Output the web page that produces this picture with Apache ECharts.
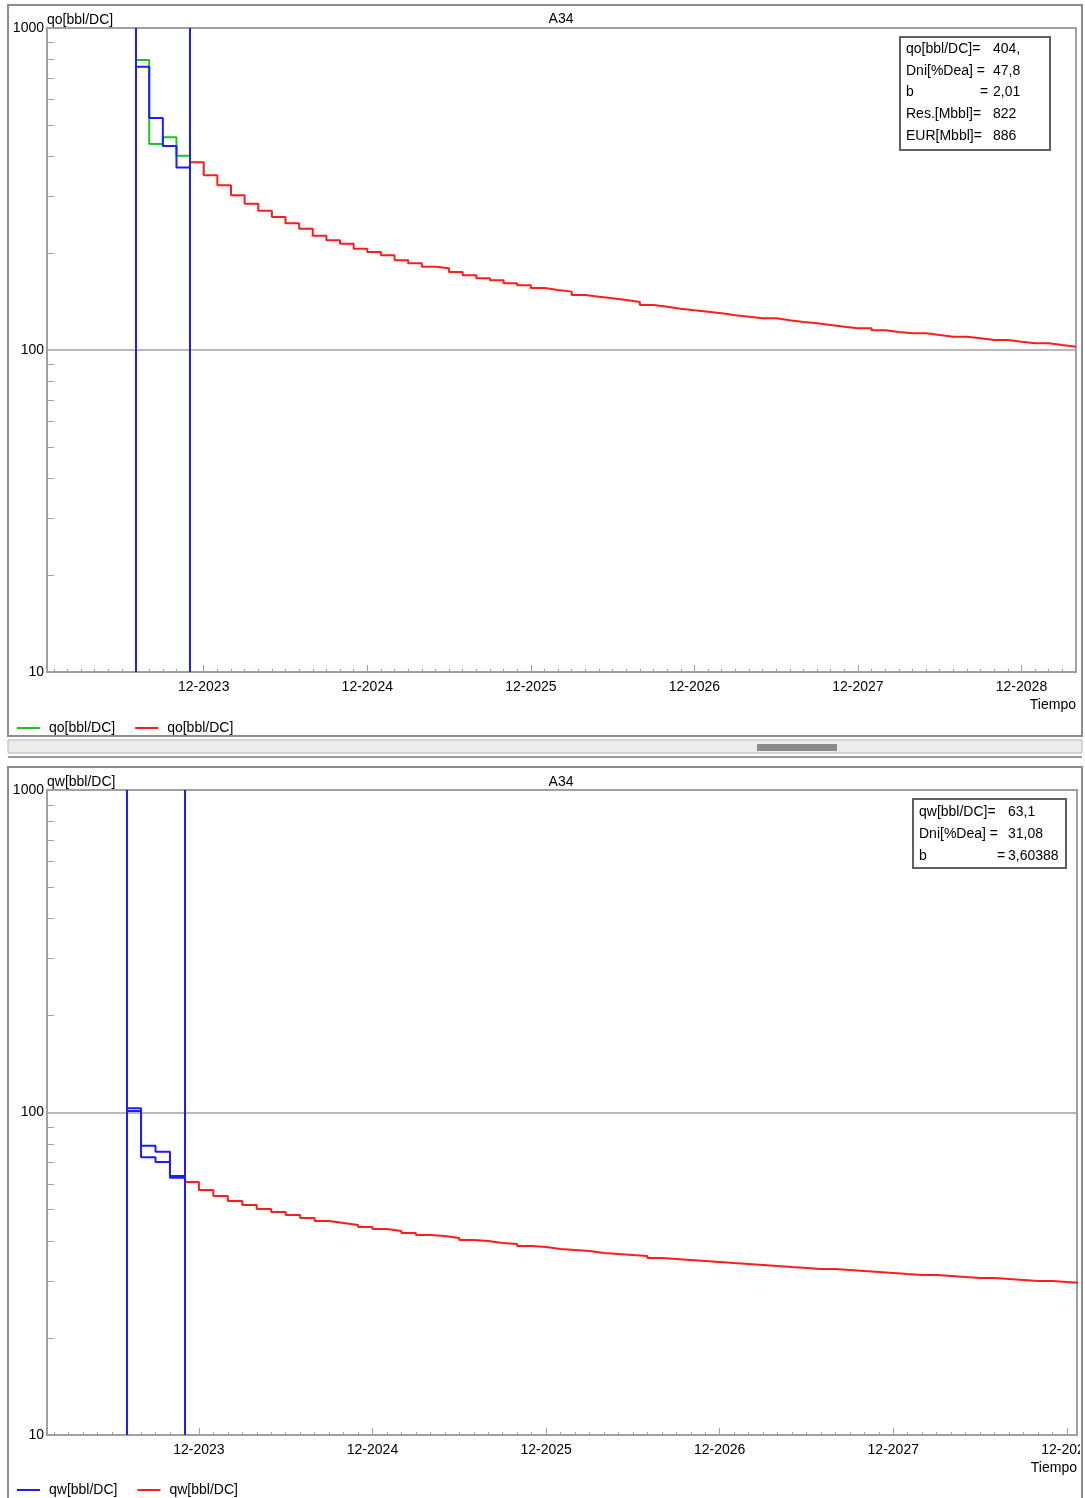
<!DOCTYPE html>
<html>
<head>
<meta charset="utf-8">
<title>A34</title>
<script src="https://cdn.jsdelivr.net/npm/echarts@6/dist/echarts.min.js"></script>
<style>
  html, body { margin: 0; padding: 0; background: #fff; }
  #MyChart { width: 1085px; height: 1498px; }
</style>
</head>
<body>
<div id="MyChart"></div>
<script>
// ---- datos (mes 0 = 12-2023) ----
const ventana = ['2023-07', '2023-11']          // lineas azules verticales
const aniosEtiqueta = ['2023-12', '2024-12', '2025-12', '2026-12', '2027-12', '2028-12']
const ticksMenoresY = [20, 30, 40, 50, 60, 70, 80, 90, 200, 300, 400, 500, 600, 700, 800, 900]

// petroleo
const qoInicio = '2023-07'
const qoHist = [795, 436, 458, 401]
const qoAjuste = [758, 525, 430, 369]
const qoPronInicio = '2023-11'
const qoPron = [382.6, 348.6, 324.7, 302.3, 284.7, 270.8, 258.8, 247.5, 238.1, 226.5,
  219.1, 213.8, 206.3, 201.5, 196.8, 189.9, 185.9, 181.4, 179.3, 174.7,
  170.6, 167.0, 164.6, 161.1, 158.8, 155.8, 153.6, 151.8, 148.2, 146.4,
  144.7, 143.0, 141.0, 138.0, 136.3, 134.4, 132.9, 131.5, 130.0, 128.2,
  126.9, 125.4, 125.4, 123.7, 122.2, 121.1, 119.6, 118.1, 116.8, 116.8,
  115.1, 113.7, 112.7, 112.7, 111.3, 110.0, 110.0, 108.7, 107.4, 107.4,
  106.1, 104.9, 104.9, 103.6, 102.4]

// agua
const qwInicio = '2023-07'
const qwHist = [103, 78.9, 75.6, 63.5]
const qwAjuste = [101, 72.6, 70.2, 62.8]
const qwPronInicio = '2023-11'
const qwPron = [60.89, 57.51, 55.10, 53.17, 51.67, 50.22, 49.15, 48.11, 47.09, 46.09,
  45.44, 44.80, 44.16, 43.53, 42.92, 42.31, 41.71, 41.41, 40.83, 40.25,
  39.96, 39.40, 39.12, 38.56, 38.29, 37.75, 37.48, 37.21, 36.69, 36.43,
  36.17, 35.91, 35.40, 35.15, 34.90, 34.65, 34.40, 34.15, 33.91, 33.67,
  33.43, 33.19, 32.96, 32.72, 32.72, 32.49, 32.26, 32.03, 31.80, 31.57,
  31.35, 31.35, 31.12, 30.90, 30.68, 30.68, 30.46, 30.25, 30.03, 30.03,
  29.82, 29.61]

// cuadros de parametros
const cuadroQoNombres = ['qo[bbl/DC]=', 'Dni[%Dea] =', 'b', 'Res.[Mbbl]=', 'EUR[Mbbl]=']
const cuadroQoValores = ['404,', '47,8', '2,01', '822', '886']
const cuadroQwNombres = ['qw[bbl/DC]=', 'Dni[%Dea] =', 'b']
const cuadroQwValores = ['63,1', '31,08', '3,60388']

const nombresLeyenda = {
  qo_hist: 'qo[bbl/DC]', qo_pron: 'qo[bbl/DC]',
  qw_hist: 'qw[bbl/DC]', qw_pron: 'qw[bbl/DC]'
}

const FUENTE = 'Liberation Sans'
const GRIS = '#a0a0a0'
const VERDE = '#22c322'
const AZUL = '#1c1cff'
const ROJO = '#ff1c1c'

function mesIdx(s) {
  const [y, m] = s.split('-').map(Number)
  return y * 12 + (m - 1) - (2023 * 12 + 11)
}
function etiquetaMes(v) {
  const t = 2023 * 12 + 11 + Math.round(v)
  const y = Math.floor(t / 12)
  const m = t % 12 + 1
  return (m < 10 ? '0' : '') + m + '-' + y
}
// escalones mensuales: cada valor dura un mes
function escalones(inicio, valores) {
  const i0 = mesIdx(inicio)
  const d = valores.map((v, i) => [i0 + i, v])
  d.push([i0 + valores.length, valores[valores.length - 1]])
  return d
}

const anios = aniosEtiqueta.map(mesIdx)
const texto = { color: '#000', fontSize: 14, fontFamily: FUENTE }

function ejesX(g, min, max) {
  const meses = []
  for (let m = Math.ceil(min); m <= Math.floor(max); m++) meses.push(m)
  return [
    {
      type: 'value', gridIndex: g, min: min, max: max, position: 'bottom',
      name: 'Tiempo', nameLocation: 'end', nameGap: 0, nameMoveOverlap: false,
      nameTextStyle: Object.assign({ align: 'right', verticalAlign: 'top', padding: [26, 0, 0, 0] }, texto),
      axisLine: { show: true, onZero: false, lineStyle: { color: GRIS, width: 2 } },
      axisTick: { show: true, inside: true, length: 7, customValues: anios, lineStyle: { color: GRIS } },
      axisLabel: Object.assign({ customValues: anios, formatter: etiquetaMes, margin: 8 }, texto),
      splitLine: { show: false }
    },
    {
      type: 'value', gridIndex: g, min: min, max: max, position: 'bottom',
      axisLine: { show: false, onZero: false }, axisLabel: { show: false }, splitLine: { show: false },
      axisTick: { show: true, inside: true, length: 3, customValues: meses, lineStyle: { color: GRIS } }
    }
  ]
}

function ejesY(g, nombre) {
  return [
    {
      type: 'log', logBase: 10, gridIndex: g, min: 10, max: 1000, position: 'left',
      name: nombre, nameLocation: 'end', nameGap: 1, nameMoveOverlap: false,
      nameTextStyle: Object.assign({ align: 'left', verticalAlign: 'bottom' }, texto),
      axisLine: { show: true, onZero: false, lineStyle: { color: GRIS, width: 2 } },
      axisTick: { show: false },
      axisLabel: Object.assign({ margin: 3, formatter: v => String(v) }, texto),
      splitLine: { show: true, lineStyle: { color: GRIS, width: 1.5 } }
    },
    {
      type: 'log', logBase: 10, gridIndex: g, min: 10, max: 1000, position: 'left',
      axisLine: { show: false, onZero: false }, axisLabel: { show: false }, splitLine: { show: false },
      axisTick: { show: true, inside: true, length: 7, customValues: ticksMenoresY, lineStyle: { color: GRIS } }
    }
  ]
}

function serie(nombre, xi, yi, color, datos, conVentana) {
  const s = {
    name: nombre, type: 'line', step: 'end', xAxisIndex: xi, yAxisIndex: yi,
    showSymbol: false, symbol: 'none', data: datos,
    lineStyle: { color: color, width: 2 }, itemStyle: { color: color }
  }
  if (conVentana) {
    s.markLine = {
      silent: true, symbol: ['none', 'none'], label: { show: false },
      lineStyle: { color: AZUL, width: 2, type: 'solid' },
      data: ventana.map(v => ({ xAxis: mesIdx(v) }))
    }
  }
  return s
}

function cuadro(x, y, w, h, nombres, valores, xTexto, xIgual, xValor, y0, paso) {
  const hijos = [{
    type: 'rect', shape: { x: x, y: y, width: w, height: h },
    style: { fill: '#fff', stroke: '#606060', lineWidth: 2 }
  }]
  nombres.forEach((n, i) => {
    const yy = y0 + i * paso
    hijos.push({ type: 'text', x: xTexto, y: yy, style: { text: n, fill: '#000', font: '14px ' + FUENTE, verticalAlign: 'middle' } })
    if (!n.endsWith('=')) {
      hijos.push({ type: 'text', x: xIgual, y: yy, style: { text: '=', fill: '#000', font: '14px ' + FUENTE, verticalAlign: 'middle' } })
    }
    hijos.push({ type: 'text', x: xValor, y: yy, style: { text: valores[i], fill: '#000', font: '14px ' + FUENTE, verticalAlign: 'middle' } })
  })
  return { type: 'group', z: 50, children: hijos }
}

const leyenda = {
  left: 17, padding: 0, icon: 'rect', itemWidth: 23, itemHeight: 2, itemGap: 20,
  formatter: n => nombresLeyenda[n], textStyle: Object.assign({ width: 76, padding: [0, 0, 0, 4] }, texto)
}

let myChart = echarts.init(document.getElementById('MyChart'))
let option = {
  animation: false,
  backgroundColor: '#fff',
  title: [
    { text: 'A34', left: 556, top: 7, textAlign: 'center', textStyle: Object.assign({ fontWeight: 'normal' }, texto) },
    { text: 'A34', left: 556, top: 770, textAlign: 'center', textStyle: Object.assign({ fontWeight: 'normal' }, texto) }
  ],
  legend: [
    Object.assign({ data: ['qo_hist', 'qo_pron'], top: 721 }, leyenda),
    Object.assign({ data: ['qw_hist', 'qw_pron'], top: 1483 }, leyenda)
  ],
  grid: [
    { left: 47, top: 28, width: 1029, height: 644, show: true, borderColor: GRIS, borderWidth: 2, outerBoundsMode: 'none' },
    { left: 47, top: 790, width: 1030, height: 645, show: true, borderColor: GRIS, borderWidth: 2, outerBoundsMode: 'none' }
  ],
  xAxis: ejesX(0, -11.5, 64).concat(ejesX(1, -10.5, 60.7)),
  yAxis: ejesY(0, 'qo[bbl/DC]').concat(ejesY(1, 'qw[bbl/DC]')),
  series: [
    serie('qo_hist', 0, 0, VERDE, escalones(qoInicio, qoHist), false),
    serie('qo_ajuste', 0, 0, AZUL, escalones(qoInicio, qoAjuste), true),
    serie('qo_pron', 0, 0, ROJO, escalones(qoPronInicio, qoPron), false),
    serie('qw_ajuste', 2, 2, AZUL, escalones(qwInicio, qwAjuste), true),
    serie('qw_hist', 2, 2, AZUL, escalones(qwInicio, qwHist), false),
    serie('qw_pron', 2, 2, ROJO, escalones(qwPronInicio, qwPron), false)
  ],
  graphic: [
    // marcos de los paneles y separador
    { type: 'rect', z: -10, shape: { x: 8, y: 5, width: 1074, height: 731 }, style: { fill: '#fff', stroke: '#8c8c8c', lineWidth: 2 } },
    { type: 'rect', z: -10, shape: { x: 8, y: 740, width: 1074, height: 13 }, style: { fill: '#ececec', stroke: '#b4b4b4', lineWidth: 1 } },
    { type: 'rect', z: -10, shape: { x: 757, y: 744, width: 80, height: 7 }, style: { fill: '#8a8a8a' } },
    { type: 'line', z: -10, shape: { x1: 8, y1: 757, x2: 1082, y2: 757 }, style: { stroke: '#9a9a9a', lineWidth: 2 } },
    { type: 'rect', z: -10, shape: { x: 8, y: 767, width: 1074, height: 740 }, style: { fill: '#fff', stroke: '#8c8c8c', lineWidth: 2 } },
    { type: 'rect', z: 100, shape: { x: 1080, y: 1436, width: 5, height: 62 }, style: { fill: '#fff' } },
    { type: 'line', z: 101, shape: { x1: 1082, y1: 767, x2: 1082, y2: 1498 }, style: { stroke: '#8c8c8c', lineWidth: 2 } },
    cuadro(900, 37, 150, 113, cuadroQoNombres, cuadroQoValores, 906, 980, 993, 49, 21.7),
    cuadro(913, 799, 153, 69, cuadroQwNombres, cuadroQwValores, 919, 997, 1008, 812, 22)
  ]
}
myChart.setOption(option)
</script>
</body>
</html>
